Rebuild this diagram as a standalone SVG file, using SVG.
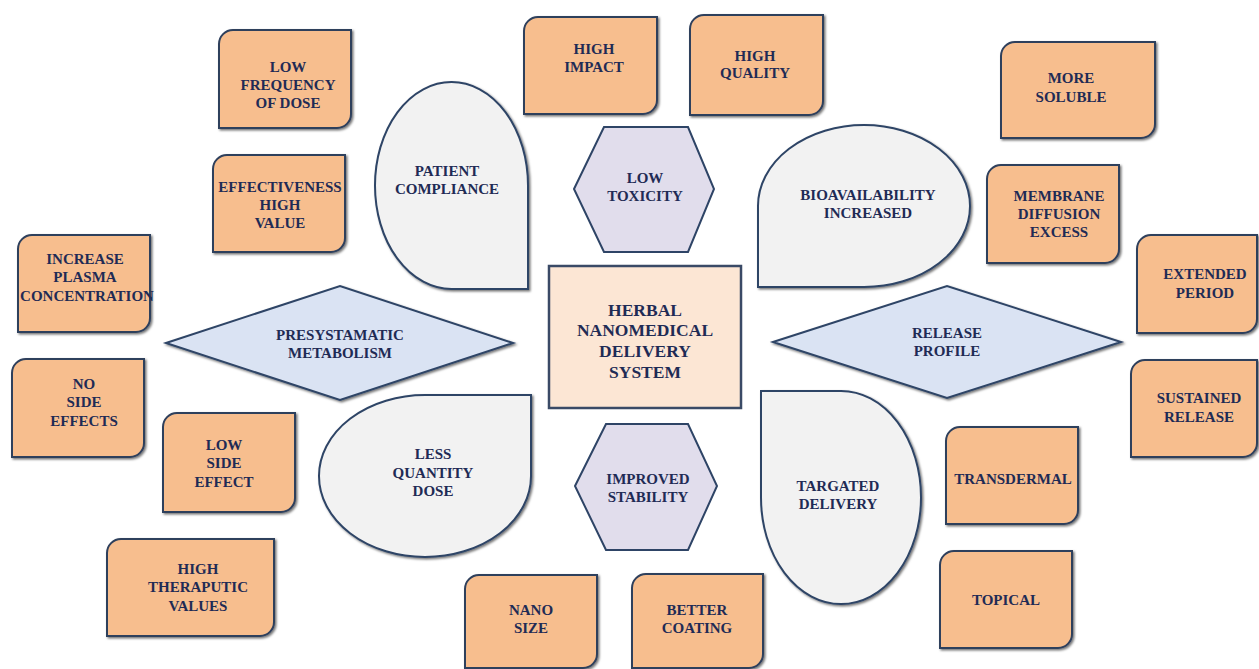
<svg xmlns="http://www.w3.org/2000/svg" width="1259" height="669" viewBox="0 0 1259 669">
  <defs>
    <filter id="shadow" x="-10%" y="-10%" width="125%" height="125%">
      <feDropShadow dx="1.5" dy="1.5" stdDeviation="1" flood-color="#000" flood-opacity="0.55"/>
    </filter>
  </defs>
  <style>
    .box { fill: #F7BE8E; stroke: #2E3F5C; stroke-width: 2; filter: url(#shadow); }
    .drop { fill: #F2F2F2; stroke: #2E4466; stroke-width: 2; filter: url(#shadow); }
    .hex { fill: #E1DDEC; stroke: #2E4466; stroke-width: 2; }
    .dia { fill: #DAE3F3; stroke: #2E4466; stroke-width: 2; filter: url(#shadow); }
    .core { fill: #FCE6D4; stroke: #3A4A66; stroke-width: 2.5; }
    text { font-family: "Liberation Serif", "Times New Roman", serif; font-weight: bold; font-size: 15px; fill: #1F2B55; text-anchor: middle; }
    .big { font-size: 17.5px; }
  </style>

  <rect width="1259" height="669" fill="#FFFFFF"/>

  <!-- central concept -->
  <g id="core">
    <rect class="core" x="549" y="266" width="192" height="142"/>
    <text class="big" x="645" y="316">HERBAL</text>
    <text class="big" x="645" y="336">NANOMEDICAL</text>
    <text class="big" x="645" y="357">DELIVERY</text>
    <text class="big" x="645" y="378">SYSTEM</text>
  </g>

  <!-- hexagons -->
  <g id="low-toxicity">
    <polygon class="hex" points="574,189 604,127 688,127 714,189 688,252 604,252"/>
    <text x="645" y="183">LOW</text>
    <text x="645" y="201">TOXICITY</text>
  </g>
  <g id="improved-stability">
    <polygon class="hex" points="575,486 606,424 688,424 717,486 688,550 606,550"/>
    <text x="648" y="484">IMPROVED</text>
    <text x="648" y="502">STABILITY</text>
  </g>

  <!-- diamonds -->
  <g id="presystamatic-metabolism">
    <polygon class="dia" points="166,343 340,286 513,343 340,400"/>
    <text x="340" y="340">PRESYSTAMATIC</text>
    <text x="340" y="358">METABOLISM</text>
  </g>
  <g id="release-profile">
    <polygon class="dia" points="773,342 947,286 1121,342 947,398"/>
    <text x="947" y="338">RELEASE</text>
    <text x="947" y="356">PROFILE</text>
  </g>

  <!-- teardrops -->
  <g id="patient-compliance">
    <path class="drop" d="M528,185.5 A76.5,103.5 0 0 0 451.5,82 A76.5,103.5 0 0 0 375,185.5 A76.5,103.5 0 0 0 451.5,289 L528,289 Z"/>
    <text x="447" y="176">PATIENT</text>
    <text x="447" y="194">COMPLIANCE</text>
  </g>
  <g id="bioavailability-increased">
    <path class="drop" d="M758,206 A106,81 0 0 1 864,125 A106,81 0 0 1 970,206 A106,81 0 0 1 864,287 L758,287 Z"/>
    <text x="868" y="200">BIOAVAILABILITY</text>
    <text x="868" y="218">INCREASED</text>
  </g>
  <g id="less-quantity-dose">
    <path class="drop" d="M425,395 L531,395 L531,476 A106,81 0 0 1 425,557 A106,81 0 0 1 319,476 A106,81 0 0 1 425,395 Z"/>
    <text x="433" y="459">LESS</text>
    <text x="433" y="478">QUANTITY</text>
    <text x="433" y="496">DOSE</text>
  </g>
  <g id="targated-delivery">
    <path class="drop" d="M761,497.5 L761,391 L841,391 A80,106.5 0 0 1 921,497.5 A80,106.5 0 0 1 841,604 A80,106.5 0 0 1 761,497.5 Z"/>
    <text x="838" y="491">TARGATED</text>
    <text x="838" y="509">DELIVERY</text>
  </g>

  <!-- outer attribute boxes -->
  <g id="low-frequency-of-dose">
    <path class="box" d="M233,30 H351 V114 A14,14 0 0 1 337,128 H219 V44 A14,14 0 0 1 233,30 Z"/>
    <text x="288" y="72">LOW</text>
    <text x="288" y="90">FREQUENCY</text>
    <text x="288" y="108">OF DOSE</text>
  </g>
  <g id="high-impact">
    <path class="box" d="M538,17 H657 V100 A14,14 0 0 1 643,114 H524 V31 A14,14 0 0 1 538,17 Z"/>
    <text x="594" y="54">HIGH</text>
    <text x="594" y="72">IMPACT</text>
  </g>
  <g id="high-quality">
    <path class="box" d="M704,15 H823 V101 A14,14 0 0 1 809,115 H690 V29 A14,14 0 0 1 704,15 Z"/>
    <text x="755" y="61">HIGH</text>
    <text x="755" y="78">QUALITY</text>
  </g>
  <g id="more-soluble">
    <path class="box" d="M1015,42 H1155 V124 A14,14 0 0 1 1141,138 H1001 V56 A14,14 0 0 1 1015,42 Z"/>
    <text x="1071" y="83">MORE</text>
    <text x="1071" y="102">SOLUBLE</text>
  </g>
  <g id="effectiveness-high-value">
    <path class="box" d="M227,155 H345 V238 A14,14 0 0 1 331,252 H213 V169 A14,14 0 0 1 227,155 Z"/>
    <text x="280" y="192">EFFECTIVENESS</text>
    <text x="280" y="210">HIGH</text>
    <text x="280" y="228">VALUE</text>
  </g>
  <g id="membrane-diffusion-excess">
    <path class="box" d="M1001,165 H1119 V249 A14,14 0 0 1 1105,263 H987 V179 A14,14 0 0 1 1001,165 Z"/>
    <text x="1059" y="201">MEMBRANE</text>
    <text x="1059" y="219">DIFFUSION</text>
    <text x="1059" y="237">EXCESS</text>
  </g>
  <g id="increase-plasma-concentration">
    <path class="box" d="M32,235 H150 V318 A14,14 0 0 1 136,332 H18 V249 A14,14 0 0 1 32,235 Z"/>
    <text x="85" y="264">INCREASE</text>
    <text x="85" y="282">PLASMA</text>
    <text x="87" y="301">CONCENTRATION</text>
  </g>
  <g id="extended-period">
    <path class="box" d="M1151,235 H1257 V319 A14,14 0 0 1 1243,333 H1137 V249 A14,14 0 0 1 1151,235 Z"/>
    <text x="1205" y="279">EXTENDED</text>
    <text x="1205" y="298">PERIOD</text>
  </g>
  <g id="no-side-effects">
    <path class="box" d="M26,359 H144 V443 A14,14 0 0 1 130,457 H12 V373 A14,14 0 0 1 26,359 Z"/>
    <text x="84" y="389">NO</text>
    <text x="84" y="407">SIDE</text>
    <text x="84" y="426">EFFECTS</text>
  </g>
  <g id="sustained-release">
    <path class="box" d="M1145,360 H1257 V443 A14,14 0 0 1 1243,457 H1131 V374 A14,14 0 0 1 1145,360 Z"/>
    <text x="1199" y="403">SUSTAINED</text>
    <text x="1199" y="422">RELEASE</text>
  </g>
  <g id="low-side-effect">
    <path class="box" d="M177,413 H295 V498 A14,14 0 0 1 281,512 H163 V427 A14,14 0 0 1 177,413 Z"/>
    <text x="224" y="450">LOW</text>
    <text x="224" y="468">SIDE</text>
    <text x="224" y="487">EFFECT</text>
  </g>
  <g id="transdermal">
    <path class="box" d="M960,427 H1078 V510 A14,14 0 0 1 1064,524 H946 V441 A14,14 0 0 1 960,427 Z"/>
    <text x="1013" y="484">TRANSDERMAL</text>
  </g>
  <g id="high-theraputic-values">
    <path class="box" d="M121,539 H274 V622 A14,14 0 0 1 260,636 H107 V553 A14,14 0 0 1 121,539 Z"/>
    <text x="198" y="574">HIGH</text>
    <text x="198" y="592">THERAPUTIC</text>
    <text x="198" y="611">VALUES</text>
  </g>
  <g id="topical">
    <path class="box" d="M954,551 H1072 V634 A14,14 0 0 1 1058,648 H940 V565 A14,14 0 0 1 954,551 Z"/>
    <text x="1006" y="605">TOPICAL</text>
  </g>
  <g id="nano-size">
    <path class="box" d="M479,575 H597 V654 A14,14 0 0 1 583,668 H465 V589 A14,14 0 0 1 479,575 Z"/>
    <text x="531" y="615">NANO</text>
    <text x="531" y="633">SIZE</text>
  </g>
  <g id="better-coating">
    <path class="box" d="M646,574 H763 V654 A14,14 0 0 1 749,668 H632 V588 A14,14 0 0 1 646,574 Z"/>
    <text x="697" y="615">BETTER</text>
    <text x="697" y="633">COATING</text>
  </g>

  <!-- no connector lines in this layout -->
  <g id="connectors"/>
</svg>
